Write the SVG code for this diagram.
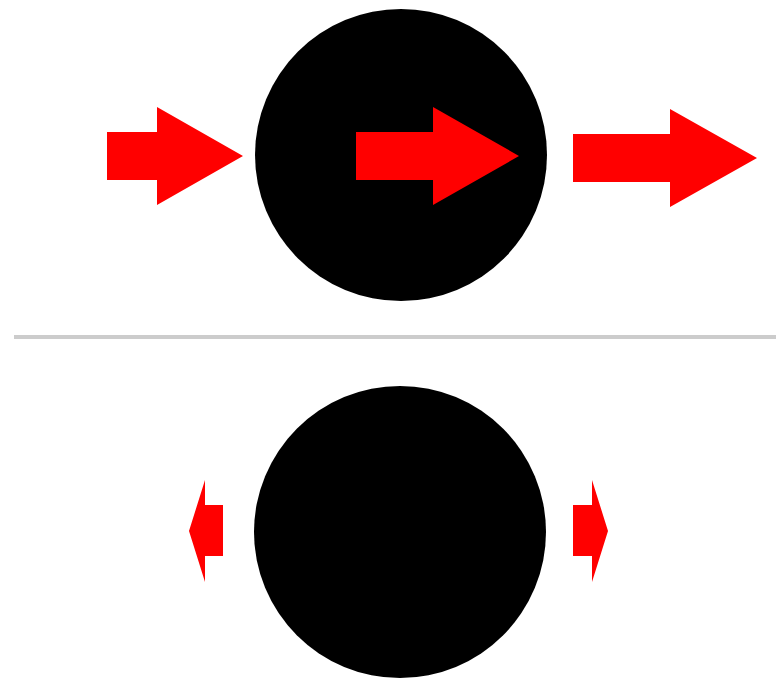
<svg xmlns="http://www.w3.org/2000/svg" width="776" height="679" viewBox="0 0 776 679">
<style>
.ball{fill:#000}
.arrow{fill:#ff0000}
.divider{stroke:#cccccc;stroke-width:4;fill:none}
</style>
<rect width="776" height="679" fill="#fff"/>
<g id="top-ball"><circle class="ball" cx="401" cy="155" r="146"/></g>
<g id="bottom-ball"><circle class="ball" cx="400" cy="532" r="146"/></g>
<g id="connectors">
<line class="divider" x1="14" y1="337" x2="776" y2="337"/>
<polygon id="arrow-in" class="arrow" points="107,132 157,132 157,107 243,156 157,205 157,180 107,180"/>
<polygon id="arrow-inside" class="arrow" points="356,132 433,132 433,107 519,156 433,205 433,180 356,180"/>
<polygon id="arrow-out" class="arrow" points="573,134 670,134 670,109 757,158 670,207 670,182 573,182"/>
<polygon id="arrow-small-left" class="arrow" points="223,505 205,505 205,480 189,531 205,582 205,556 223,556"/>
<polygon id="arrow-small-right" class="arrow" points="573,505 592,505 592,480 608,531 592,582 592,556 573,556"/>
</g>
</svg>
